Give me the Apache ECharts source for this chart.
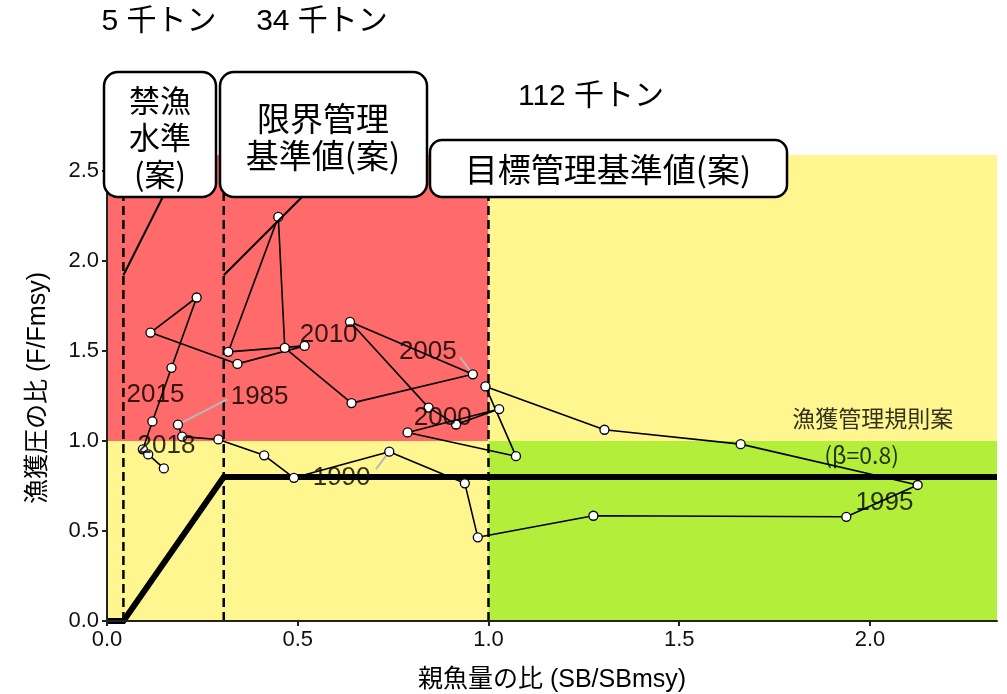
<!DOCTYPE html>
<html>
<head>
<meta charset="utf-8">
<script src="https://cdn.jsdelivr.net/npm/echarts@6/dist/echarts.min.js"></script>
<style>
  html, body { margin: 0; padding: 0; background: #ffffff; }
  #chart { width: 1007px; height: 694px; }
</style>
</head>
<body>
<div id="chart"></div>
<script>
// ---- data: stock trajectory (SB/SBmsy, F/Fmsy) by year ----
const years = [1985, 1986, 1987, 1988, 1989, 1990, 1991, 1992, 1993, 1994,
               1995, 1996, 1997, 1998, 1999, 2000, 2001, 2002, 2003, 2004,
               2005, 2006, 2007, 2008, 2009, 2010, 2011, 2012, 2013, 2014,
               2015, 2016, 2017, 2018];
const sbRatio = [0.186, 0.197, 0.292, 0.412, 0.490, 0.740, 0.938, 0.972, 1.275, 1.938,
                 2.125, 1.661, 1.304, 0.992, 1.072, 0.788, 1.028, 0.915, 0.843, 0.637,
                 0.959, 0.641, 0.466, 0.449, 0.318, 0.518, 0.342, 0.114, 0.235, 0.169,
                 0.119, 0.094, 0.108, 0.149];
const fRatio = [1.091, 1.025, 1.009, 0.921, 0.796, 0.941, 0.765, 0.465, 0.585, 0.579,
                0.756, 0.983, 1.063, 1.304, 0.916, 1.048, 1.178, 1.092, 1.186, 1.663,
                1.371, 1.211, 1.518, 2.246, 1.496, 1.529, 1.429, 1.603, 1.798, 1.407,
                1.109, 0.954, 0.926, 0.848];

// ---- reference points and harvest control rule ----
const refNames = ['禁漁\n水準\n(案)', '限界管理\n基準値(案)', '目標管理基準値(案)'];
const refSB = [0.043, 0.306, 1.0];          // SBban, SBlimit, SBtarget (ratio to SBmsy)
const refTonnes = ['5', '34', '112'];        // 千トン
const beta = 0.8;

// ---- axes ----
const X_MAX = 2.333;
const Y_MAX = 2.59;
const xTicks = [0, 0.5, 1.0, 1.5, 2.0];
const yTicks = [0, 0.5, 1.0, 1.5, 2.0, 2.5];

// ---- year labels (label anchor in data units) ----
const labelYears = [1985, 1990, 1995, 2000, 2005, 2010, 2015, 2018];
const labelX = [0.400, 0.615, 2.038, 0.880, 0.841, 0.581, 0.127, 0.156];
const labelY = [1.244, 0.794, 0.656, 1.128, 1.494, 1.589, 1.256, 0.972];
// leader lines from label edge to point, for the labels set apart from their point
const leaderYears = [1985, 1990, 2005];
const leaderFromX = [0.315, 0.705, 0.926];
const leaderFromY = [1.232, 0.844, 1.465];

const COL_RED = '#FF6A6A';
const COL_YELLOW = '#FFF68F';
const COL_GREEN = '#B3EE3A';
const LATIN = "'Liberation Sans', Arial, 'Noto Sans CJK JP', sans-serif";
const CJK = "'Noto Sans CJK JP', 'Liberation Sans', sans-serif";

const trajectory = years.map((y, i) => [sbRatio[i], fRatio[i]]);
const hcr = [[0, 0], [refSB[0], 0], [refSB[1], beta], [X_MAX, beta]];

const leaderData = [];
leaderYears.forEach((yr, i) => {
  const k = years.indexOf(yr);
  leaderData.push([leaderFromX[i], leaderFromY[i]]);
  leaderData.push([sbRatio[k], fRatio[k]]);
  leaderData.push([null, null]);
});

// connector segments from each limit line up to its label box
const connectorTopY = 2.394;
const connectorTopX = [0.155, 0.529];
const connectorBaseY = 1.922;
const connectorData = [
  [refSB[0], connectorBaseY], [connectorTopX[0], connectorTopY], [null, null],
  [refSB[1], connectorBaseY], [connectorTopX[1], connectorTopY]
];

const dashedSeries = refSB.map((x) => ({
  type: 'line',
  data: [[x, 0], [x, Y_MAX]],
  symbol: 'none',
  lineStyle: { color: '#000', width: 2.5, type: [9, 5] },
  z: 3,
  silent: true
}));

// rounded label box drawn above the plot layer
function labelBox(x, y, w, h, r, text, cx, cy, size) {
  return {
    type: 'group', zlevel: 2, z: 100, children: [
      { type: 'rect', zlevel: 2, z: 100, shape: { x: x, y: y, width: w, height: h, r: r },
        style: { fill: '#fff', stroke: '#000', lineWidth: 2.5 } },
      { type: 'text', zlevel: 2, z: 101, style: { text: text, x: cx, y: cy, align: 'center', verticalAlign: 'middle',
        fontSize: size, fontFamily: CJK, lineHeight: 37, fill: '#000' } }
    ]
  };
}
function topText(text, x, y) {
  return { type: 'text', zlevel: 2, z: 100, style: { text: text, x: x, y: y, align: 'center', verticalAlign: 'middle',
    fontSize: 30, fontFamily: LATIN, fill: '#000' } };
}

const chart = echarts.init(document.getElementById('chart'), null, { renderer: 'canvas' });

const option = {
  animation: false,
  backgroundColor: '#ffffff',
  grid: { left: 107, right: 10, top: 155, bottom: 73, outerBoundsMode: 'none', containLabel: false },
  xAxis: {
    type: 'value', min: 0, max: X_MAX, z: 10,
    name: '親魚量の比 (SB/SBmsy)', nameLocation: 'middle', nameGap: 47,
    nameTextStyle: { fontSize: 25, color: '#000', fontFamily: LATIN },
    axisLine: { show: true, lineStyle: { color: '#222', width: 2 } },
    axisTick: { show: true, length: 5, lineStyle: { color: '#222', width: 2 }, customValues: xTicks },
    axisLabel: { fontSize: 22, color: '#111', fontFamily: LATIN, margin: 8,
                 customValues: xTicks, formatter: (v) => v.toFixed(1) },
    splitLine: { show: false }
  },
  yAxis: {
    type: 'value', min: 0, max: Y_MAX, z: 10,
    name: '漁獲圧の比 (F/Fmsy)', nameLocation: 'middle', nameGap: 56, nameRotate: 90,
    nameTextStyle: { fontSize: 25, color: '#000', fontFamily: LATIN },
    axisLine: { show: true, lineStyle: { color: '#222', width: 2 } },
    axisTick: { show: true, length: 5, lineStyle: { color: '#222', width: 2 }, customValues: yTicks },
    axisLabel: { fontSize: 22, color: '#111', fontFamily: LATIN, margin: 8,
                 customValues: yTicks, formatter: (v) => v.toFixed(1) },
    splitLine: { show: false }
  },
  series: [
    // status zones
    {
      type: 'line', data: [], silent: true, z: 1,
      markArea: {
        silent: true,
        data: [
          [{ xAxis: 0, yAxis: 1, itemStyle: { color: COL_RED } }, { xAxis: 1, yAxis: Y_MAX }],
          [{ xAxis: 0, yAxis: 0, itemStyle: { color: COL_YELLOW } }, { xAxis: 1, yAxis: 1 }],
          [{ xAxis: 1, yAxis: 1, itemStyle: { color: COL_YELLOW } }, { xAxis: X_MAX, yAxis: Y_MAX }],
          [{ xAxis: 1, yAxis: 0, itemStyle: { color: COL_GREEN } }, { xAxis: X_MAX, yAxis: 1 }]
        ]
      }
    },
    ...dashedSeries,
    // harvest control rule
    {
      type: 'line', data: hcr, symbol: 'none', silent: true, z: 4,
      lineStyle: { color: '#000', width: 6, cap: 'butt', join: 'miter' }
    },
    // leader lines for year labels
    {
      type: 'line', data: leaderData, symbol: 'none', silent: true, z: 5, connectNulls: false,
      lineStyle: { color: '#b8b8b8', width: 2 }
    },
    // trajectory
    {
      type: 'line', data: trajectory, silent: true, z: 6,
      symbol: 'circle', symbolSize: 9,
      itemStyle: { color: '#ffffff', borderColor: '#000', borderWidth: 1.3 },
      lineStyle: { color: '#000', width: 1.6 }
    },
    // year labels
    {
      type: 'scatter', silent: true, z: 7,
      data: labelYears.map((yr, i) => ({ value: [labelX[i], labelY[i]], name: String(yr) })),
      symbolSize: 0.1, itemStyle: { color: 'transparent' },
      label: { show: true, position: 'inside', formatter: (p) => p.name,
               fontSize: 26, color: '#000', fontFamily: LATIN }
    },
    // HCR caption
    {
      type: 'scatter', silent: true, z: 7,
      data: [
        { value: [2.007, 1.128], name: '漁獲管理規則案' },
        { value: [1.978, 0.922], name: '(β=' + beta + ')' }
      ],
      symbolSize: 0.1, itemStyle: { color: 'transparent' },
      label: { show: true, position: 'inside', formatter: (p) => p.name,
               fontSize: 23, color: '#000', fontFamily: CJK }
    },
    // connectors from limit lines to label boxes
    {
      type: 'line', data: connectorData, symbol: 'none', silent: true, z: 8, connectNulls: false,
      lineStyle: { color: '#000', width: 2 }
    }
  ],
  graphic: [
    labelBox(104, 72, 112, 125, 14, refNames[0], 160, 137, 31),
    labelBox(220, 72, 207, 125, 14, refNames[1], 323, 137, 33),
    labelBox(430, 140, 357, 57, 12, refNames[2], 608, 169, 33),
    topText(refTonnes[0] + ' 千トン', 159, 22),
    topText(refTonnes[1] + ' 千トン', 322, 22),
    topText(refTonnes[2] + ' 千トン', 591, 97)
  ]
};

chart.setOption(option);
</script>
</body>
</html>
